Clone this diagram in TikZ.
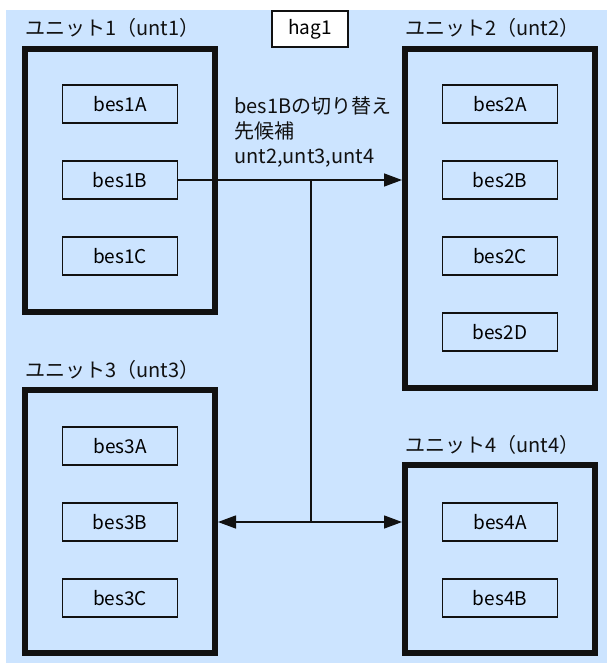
\documentclass[tikz,border=0pt]{standalone}
\usepackage{fontspec}
\setmainfont{Noto Sans CJK JP}
\usetikzlibrary{positioning,arrows.meta,calc}
\definecolor{paper}{HTML}{CCE4FF}
\definecolor{ink}{HTML}{111111}

\begin{document}
\begin{tikzpicture}[x=1pt,y=-1pt,font=\fontsize{19}{25}\selectfont,
  unitbox/.style={draw=ink,line width=6pt,minimum width=190pt},
  besbox/.style={draw=ink,line width=1.2pt,minimum width=115pt,minimum height=38pt,inner sep=0pt},
  unitlabel/.style={anchor=west,inner sep=0pt,text=ink,font=\fontsize{20}{25}\selectfont},
  link/.style={draw=ink,line width=1.4pt},
  tip/.style={-{Triangle[length=18pt,width=13pt]}}]
\useasboundingbox (0,0) rectangle (607,665);
\fill[paper] (6,10) rectangle (607,663);
\node[draw=ink,fill=white,line width=1.5pt,minimum width=76pt,minimum height=36pt,inner sep=0pt] (hag) at (310,29){hag1};
% units
\node[unitbox,minimum height=263pt] (u1) at (120,180.5){};
\node[unitbox,minimum height=339pt] (u2) at (500,218.5){};
\node[unitbox,minimum height=263pt] (u3) at (120,521.5){};
\node[unitbox,minimum height=188pt] (u4) at (500,559){};
\node[unitlabel] (l1) at (25,28){ユニット1（unt1）};
\node[unitlabel] (l2) at (405,28){ユニット2（unt2）};
\node[unitlabel] (l3) at (25,370){ユニット3（unt3）};
\node[unitlabel] (l4) at (405,445){ユニット4（unt4）};
% bes
\node[besbox] (b1a) at (120,104){bes1A};
\node[besbox] (b1b) at (120,180){bes1B};
\node[besbox] (b1c) at (120,256){bes1C};
\node[besbox] (b2a) at (500,104){bes2A};
\node[besbox] (b2b) at (500,180){bes2B};
\node[besbox] (b2c) at (500,256){bes2C};
\node[besbox] (b2d) at (500,332){bes2D};
\node[besbox] (b3a) at (120,446){bes3A};
\node[besbox] (b3b) at (120,522){bes3B};
\node[besbox] (b3c) at (120,598){bes3C};
\node[besbox] (b4a) at (500,522){bes4A};
\node[besbox] (b4b) at (500,598){bes4B};
\node[anchor=north west,align=left,inner sep=0pt,text=ink,font=\fontsize{20}{25}\selectfont] (note) at (234,96){bes1Bの切り替え\\先候補\\unt2,unt3,unt4};
% switch-over paths
\coordinate (split) at (311,180);
\coordinate (fork) at (311,522);
\draw[link,tip] (b1b.east) -- (b1b.east -| u2.west);
\draw[link] (split) -- (fork);
\draw[link,tip] (fork) -- (fork -| u3.east);
\draw[link,tip] (fork) -- (fork -| u4.west);
\end{tikzpicture}
\end{document}
